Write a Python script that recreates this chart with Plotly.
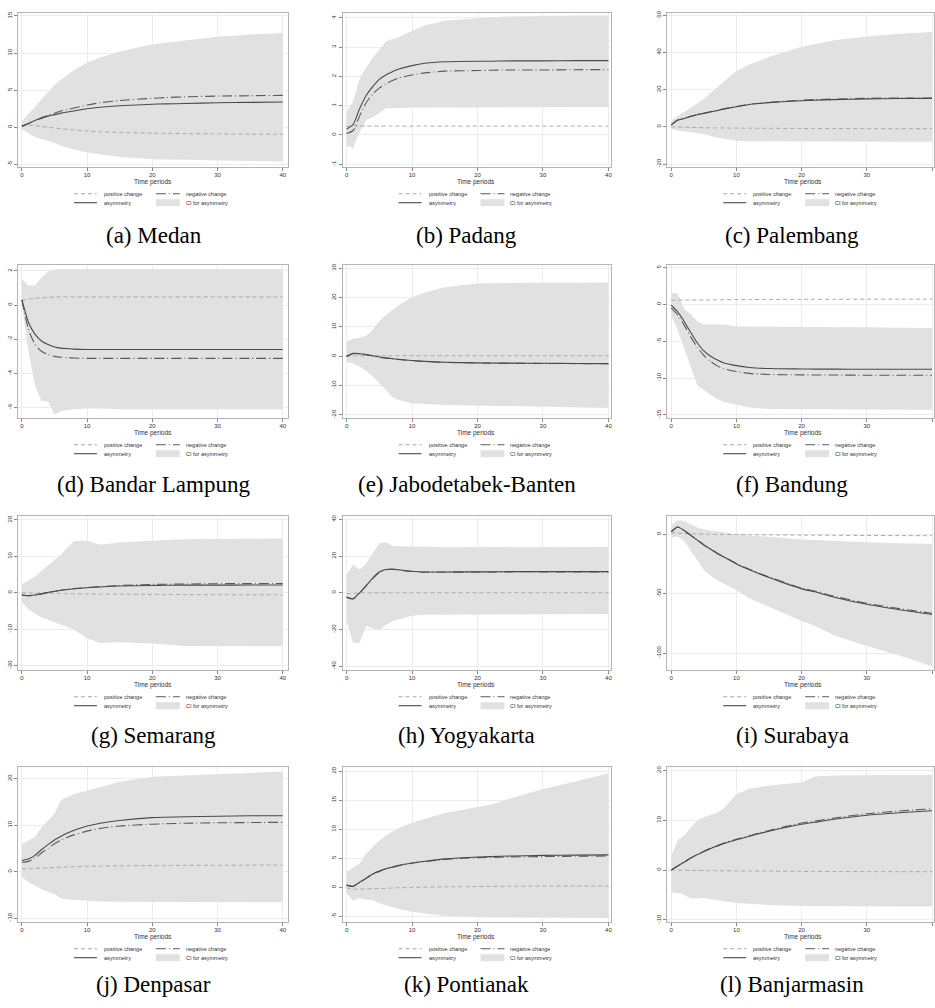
import plotly.graph_objects as go

# ---------------- data ----------------
horizon = [0, 1, 2, 3, 4, 5, 6, 7, 8, 10, 12, 15, 20, 22, 25, 30, 35, 40]

medan_pos = [0.1, 0.3, 0.2, 0.1, 0.0, -0.1, -0.2, -0.28, -0.35, -0.5, -0.6, -0.7, -0.8, -0.82, -0.85, -0.9, -0.92, -0.95]
medan_neg = [0.2, 0.5, 0.9, 1.3, 1.6, 1.9, 2.2, 2.4, 2.6, 3.0, 3.3, 3.6, 3.9, 4.0, 4.1, 4.2, 4.25, 4.3]
medan_asym = [0.1, 0.5, 0.9, 1.2, 1.5, 1.7, 1.9, 2.05, 2.2, 2.5, 2.7, 2.9, 3.1, 3.15, 3.2, 3.3, 3.35, 3.4]
medan_lo = [-0.3, -0.8, -1.3, -1.6, -1.8, -2.1, -2.5, -2.8, -3.0, -3.4, -3.7, -4.0, -4.3, -4.35, -4.4, -4.5, -4.55, -4.6]
medan_hi = [0.8, 1.8, 2.8, 3.7, 4.7, 5.7, 6.4, 7.1, 7.7, 8.7, 9.4, 10.2, 11.2, 11.4, 11.7, 12.2, 12.5, 12.7]

padang_pos = [0.28, 0.3, 0.3, 0.3, 0.3, 0.3, 0.3, 0.3, 0.3, 0.3, 0.3, 0.3, 0.3, 0.3, 0.3, 0.3, 0.3, 0.3]
padang_neg = [0.05, 0.15, 0.65, 1.1, 1.4, 1.6, 1.75, 1.86, 1.95, 2.05, 2.12, 2.18, 2.2, 2.21, 2.22, 2.22, 2.23, 2.23]
padang_asym = [0.2, 0.35, 0.9, 1.35, 1.65, 1.9, 2.05, 2.16, 2.25, 2.37, 2.45, 2.5, 2.52, 2.52, 2.53, 2.53, 2.54, 2.54]
padang_lo = [-0.37, -0.45, 0.1, 0.5, 0.6, 0.75, 0.9, 0.91, 0.92, 0.93, 0.94, 0.95, 0.95, 0.95, 0.95, 0.95, 0.95, 0.95]
padang_hi = [0.78, 1.13, 1.93, 2.3, 2.65, 2.9, 3.2, 3.27, 3.35, 3.55, 3.75, 3.9, 4.0, 4.02, 4.05, 4.07, 4.08, 4.08]

palembang_pos = [0, -0.1, -0.2, -0.3, -0.4, -0.5, -0.55, -0.6, -0.65, -0.7, -0.75, -0.8, -0.9, -0.9, -0.95, -1, -1, -1]
palembang_neg = [1, 3.6, 4.6, 5.6, 6.6, 7.3, 8.1, 8.8, 9.6, 10.9, 12.1, 13.1, 14.3, 14.6, 14.9, 15.3, 15.5, 15.5]
palembang_asym = [1, 3.5, 4.5, 5.5, 6.5, 7.2, 8, 8.7, 9.5, 10.8, 12, 13, 14, 14.3, 14.6, 15, 15.2, 15.3]
palembang_lo = [-1, -2, -2.5, -3, -3.5, -4, -5, -5.8, -6.5, -7.5, -7.8, -8, -8, -8, -8, -8, -8, -8]
palembang_hi = [3, 6, 8, 10.5, 12.5, 15, 18, 21, 24, 30, 33.5, 37.5, 43, 44.5, 46.5, 48.5, 50, 51]

lampung_pos = [0.27, 0.35, 0.4, 0.42, 0.45, 0.47, 0.48, 0.48, 0.48, 0.48, 0.48, 0.48, 0.48, 0.48, 0.48, 0.48, 0.48, 0.48]
lampung_neg = [0.3, -1.4, -2.3, -2.7, -2.9, -3.0, -3.05, -3.08, -3.1, -3.12, -3.12, -3.12, -3.12, -3.12, -3.12, -3.12, -3.12, -3.12]
lampung_asym = [0.3, -1.0, -1.7, -2.1, -2.3, -2.45, -2.52, -2.55, -2.58, -2.6, -2.6, -2.6, -2.6, -2.6, -2.6, -2.6, -2.6, -2.6]
lampung_lo = [0.1, -2.7, -4.7, -5.6, -5.65, -6.4, -6.2, -6.15, -6.1, -6.05, -6.05, -6.1, -6.1, -6.1, -6.1, -6.1, -6.1, -6.1]
lampung_hi = [1.51, 1.15, 1.15, 1.6, 1.95, 2.1, 2.12, 2.12, 2.12, 2.12, 2.12, 2.12, 2.12, 2.12, 2.12, 2.12, 2.12, 2.12]

jabo_pos = [0, 0.15, 0.2, 0.2, 0.2, 0.2, 0.2, 0.2, 0.2, 0.2, 0.2, 0.2, 0.2, 0.2, 0.2, 0.2, 0.2, 0.2]
jabo_neg = [-0.1, 0.9, 0.8, 0.5, 0.1, -0.3, -0.6, -0.85, -1.1, -1.5, -1.8, -2.1, -2.3, -2.35, -2.4, -2.45, -2.5, -2.55]
jabo_asym = [0, 1.0, 0.85, 0.55, 0.15, -0.25, -0.55, -0.8, -1.05, -1.45, -1.75, -2.05, -2.25, -2.3, -2.35, -2.4, -2.45, -2.5]
jabo_lo = [-2, -2.5, -3.5, -5, -6.8, -9, -11.5, -14, -15, -16, -16.3, -16.6, -16.9, -17, -17.1, -17.3, -17.4, -17.6]
jabo_hi = [5, 6, 6.3, 7, 9, 12, 14, 15.8, 17.5, 20, 21.8, 23.5, 24.8, 24.9, 25, 25, 25.05, 25.1]

bandung_pos = [0.55, 0.6, 0.6, 0.6, 0.6, 0.62, 0.63, 0.64, 0.65, 0.66, 0.67, 0.68, 0.7, 0.7, 0.7, 0.72, 0.72, 0.73]
bandung_neg = [-0.5, -1.4, -2.8, -4.4, -5.8, -6.9, -7.7, -8.3, -8.7, -9.1, -9.35, -9.5, -9.55, -9.57, -9.58, -9.6, -9.6, -9.6]
bandung_asym = [-0.1, -1.0, -2.3, -3.8, -5.2, -6.3, -7.0, -7.5, -7.9, -8.3, -8.55, -8.7, -8.75, -8.77, -8.78, -8.8, -8.8, -8.8]
bandung_lo = [-1.5, -3.5, -6, -8.5, -11, -11.7, -12.2, -12.8, -13.2, -13.6, -14, -14.2, -14.3, -14.3, -14.3, -14.3, -14.3, -14.3]
bandung_hi = [1.6, 1.5, -0.6, -1.3, -2.3, -2.7, -2.7, -2.7, -2.7, -3.0, -3.0, -3.0, -3.0, -3.05, -3.05, -3.1, -3.15, -3.2]

semarang_pos = [0, -0.03, -0.06, -0.1, -0.13, -0.16, -0.2, -0.23, -0.26, -0.3, -0.35, -0.4, -0.45, -0.47, -0.5, -0.52, -0.54, -0.55]
semarang_neg = [-0.6, -0.8, -0.6, -0.3, 0.1, 0.4, 0.7, 0.95, 1.15, 1.45, 1.7, 2.0, 2.3, 2.35, 2.4, 2.5, 2.52, 2.55]
semarang_asym = [-0.6, -0.8, -0.6, -0.3, 0.1, 0.4, 0.7, 0.9, 1.1, 1.4, 1.6, 1.85, 2.0, 2.05, 2.1, 2.1, 2.12, 2.15]
semarang_lo = [-2.5, -4.5, -5.7, -6.8, -7.5, -8, -8.7, -9.4, -10.2, -12.5, -13.8, -13.6, -13.9, -14.2, -14.6, -14.6, -14.65, -14.7]
semarang_hi = [2.4, 3.3, 4.5, 6, 7.5, 8.8, 10.5, 12.5, 14.2, 14.3, 13.2, 13.8, 14.4, 14.5, 14.7, 14.8, 14.85, 14.9]

yogya_pos = [-0.5, -0.3, -0.1, 0, 0, 0, 0, 0, 0, 0, 0, 0, 0, 0, 0, 0, 0, 0]
yogya_neg = [-2.5, -3.4, -0.2, 3.8, 7.8, 11.1, 12.5, 12.8, 12.4, 11.6, 11.2, 11.2, 11.3, 11.3, 11.4, 11.4, 11.4, 11.4]
yogya_asym = [-2.3, -3.2, 0, 4, 8, 11.3, 12.7, 12.9, 12.5, 11.7, 11.3, 11.3, 11.4, 11.4, 11.5, 11.5, 11.5, 11.5]
yogya_lo = [-15, -27.4, -27, -17.9, -19.5, -20.4, -17.5, -15.5, -14.5, -12.5, -12, -12.3, -12.2, -12.1, -12, -11.8, -11.7, -11.6]
yogya_hi = [10, 15.4, 12.5, 16, 21.5, 27, 27.5, 25.5, 25.3, 25, 25, 24.8, 24.8, 24.8, 24.8, 24.8, 24.85, 24.9]

surabaya_pos = [1, 0.8, 0.6, 0.4, 0.2, 0, -0.1, -0.2, -0.25, -0.3, -0.4, -0.6, -0.8, -0.85, -0.95, -1.1, -1.2, -1.3]
surabaya_neg = [2, 6, 3, -1, -5, -9, -12.5, -15.8, -18.8, -24.7, -29.6, -36, -45.3, -47.8, -52.2, -58.2, -62.6, -66.5]
surabaya_asym = [2, 6, 3, -1, -5, -9, -12.5, -16, -19, -25, -30, -36.5, -46, -48.5, -53, -59, -63.5, -67.5]
surabaya_lo = [-2.8, -2, -6, -14, -22, -30, -34.7, -38.5, -41.7, -47, -54, -61, -73, -77, -85, -94, -102, -111]
surabaya_hi = [7.8, 11.7, 11, 8, 5.6, 4, 3, 2.2, 1.5, 0, -1, -2, -4.5, -5, -5.8, -6.9, -7.6, -8.3]

denpasar_pos = [0.6, 0.65, 0.7, 0.75, 0.8, 0.9, 0.95, 1.0, 1.05, 1.15, 1.2, 1.25, 1.3, 1.3, 1.35, 1.35, 1.4, 1.4]
denpasar_neg = [2.0, 2.2, 2.9, 4.0, 5.0, 6.0, 6.8, 7.4, 7.9, 8.7, 9.3, 9.8, 10.2, 10.3, 10.4, 10.5, 10.55, 10.6]
denpasar_asym = [2.4, 2.7, 3.5, 4.7, 5.8, 6.8, 7.6, 8.3, 8.9, 9.8, 10.4, 11.0, 11.6, 11.7, 11.8, 11.9, 12.0, 12.0]
denpasar_lo = [-1.1, -2.3, -3, -3.8, -4.4, -4.8, -5.8, -6.0, -6.1, -6.3, -6.4, -6.5, -6.5, -6.55, -6.6, -6.6, -6.6, -6.6]
denpasar_hi = [5.9, 6.7, 7.5, 9.5, 11.1, 12.5, 15.4, 16, 16.7, 17.4, 18.2, 19.3, 20.4, 20.5, 20.7, 21, 21.2, 21.5]

pontianak_pos = [-0.1, -0.3, -0.3, -0.25, -0.2, -0.2, -0.15, -0.1, -0.05, 0, 0.05, 0.1, 0.15, 0.17, 0.2, 0.22, 0.24, 0.25]
pontianak_neg = [0.4, 0.15, 0.85, 1.55, 2.25, 2.75, 3.15, 3.45, 3.75, 4.15, 4.45, 4.8, 5.1, 5.15, 5.25, 5.3, 5.35, 5.4]
pontianak_asym = [0.4, 0.2, 0.9, 1.6, 2.3, 2.8, 3.2, 3.5, 3.8, 4.2, 4.5, 4.9, 5.2, 5.3, 5.4, 5.5, 5.55, 5.6]
pontianak_lo = [-1.0, -2.3, -1.8, -2.1, -2.2, -2.7, -3.1, -3.4, -3.7, -4.2, -4.5, -4.9, -5.1, -5.15, -5.2, -5.2, -5.25, -5.25]
pontianak_hi = [2.7, 3.4, 4.1, 5.8, 7.0, 8.0, 8.9, 9.6, 10.2, 11.1, 11.8, 12.8, 13.8, 14.2, 15.3, 16.9, 18.2, 19.6]

banjar_pos = [0, -0.02, -0.04, -0.06, -0.08, -0.1, -0.12, -0.14, -0.15, -0.18, -0.2, -0.23, -0.27, -0.28, -0.3, -0.32, -0.33, -0.34]
banjar_neg = [0, 0.8, 1.6, 2.4, 3.1, 3.75, 4.35, 4.9, 5.4, 6.2, 6.9, 7.95, 9.45, 9.85, 10.45, 11.3, 11.85, 12.3]
banjar_asym = [0, 0.8, 1.6, 2.4, 3.1, 3.7, 4.3, 4.8, 5.3, 6.1, 6.8, 7.8, 9.2, 9.6, 10.2, 11.0, 11.5, 11.9]
banjar_lo = [-4.5, -4.6, -5.0, -5.7, -5.7, -5.6, -5.8, -6.0, -6.2, -6.6, -6.8, -7.0, -7.2, -7.25, -7.3, -7.3, -7.3, -7.3]
banjar_hi = [2.8, 6.0, 7.0, 8.5, 10.0, 10.6, 11.1, 11.5, 12.3, 15.2, 16.3, 17.0, 17.6, 18.8, 19.0, 19.1, 19.1, 19.1]

captions = ["(a) Medan", "(b) Padang", "(c) Palembang", "(d) Bandar Lampung",
            "(e) Jabodetabek-Banten", "(f) Bandung", "(g) Semarang", "(h) Yogyakarta",
            "(i) Surabaya", "(j) Denpasar", "(k) Pontianak", "(l) Banjarmasin"]

y_ticks = [[-5, 0, 5, 10, 15], [-1, 0, 1, 2, 3, 4], [-20, 0, 20, 40, 60],
           [-6, -4, -2, 0, 2], [-20, -10, 0, 10, 20, 30], [-15, -10, -5, 0, 5],
           [-20, -10, 0, 10, 20], [-40, -20, 0, 20, 40], [-100, -50, 0],
           [-10, 0, 10, 20], [-5, 0, 5, 10, 15, 20], [-10, 0, 10, 20]]
x_ticks = [0, 10, 20, 30, 40]

legend_labels = ["positive change", "negative change", "asymmetry", "CI for asymmetry"]
x_title = "Time periods"

series = [
    (medan_pos, medan_neg, medan_asym, medan_lo, medan_hi),
    (padang_pos, padang_neg, padang_asym, padang_lo, padang_hi),
    (palembang_pos, palembang_neg, palembang_asym, palembang_lo, palembang_hi),
    (lampung_pos, lampung_neg, lampung_asym, lampung_lo, lampung_hi),
    (jabo_pos, jabo_neg, jabo_asym, jabo_lo, jabo_hi),
    (bandung_pos, bandung_neg, bandung_asym, bandung_lo, bandung_hi),
    (semarang_pos, semarang_neg, semarang_asym, semarang_lo, semarang_hi),
    (yogya_pos, yogya_neg, yogya_asym, yogya_lo, yogya_hi),
    (surabaya_pos, surabaya_neg, surabaya_asym, surabaya_lo, surabaya_hi),
    (denpasar_pos, denpasar_neg, denpasar_asym, denpasar_lo, denpasar_hi),
    (pontianak_pos, pontianak_neg, pontianak_asym, pontianak_lo, pontianak_hi),
    (banjar_pos, banjar_neg, banjar_asym, banjar_lo, banjar_hi),
]

# ---------------- layout geometry (pixels) ----------------
W, H = 935, 1008
y_ranges = [[-5.4, 15.4], [-1.11, 4.17], [-21.8, 61.2],
            [-6.63, 2.35], [-21.15, 31.1], [-15.46, 5.37],
            [-21.3, 21.1], [-42.2, 41.8], [-114.5, 15.3],
            [-10.9, 22.5], [-6.0, 20.7], [-10.5, 20.7]]
col_px = [(18, 288), (343, 612), (668, 935)]
x_ranges = [[-0.6, 40.75], [-0.6, 40.45], [-0.6, 40.3]]
row_px = [(10, 165), (263, 417), (515, 670), (767, 923)]
caption_cx = [154, 467, 793]
caption_cy = [233, 483, 735, 985]
title_cx = [153, 477, 804]

CI_FILL = "#e1e1e1"
POS_C = "#a9a9a9"
NEG_C = "#5a5a5a"
ASY_C = "#4a4a4a"
TXT_C = "#333333"

def px_x(x):
    return x / W

def px_y(y):
    return 1 - y / H

fig = go.Figure()
annotations = []
shapes = []

for i, (pos, neg, asym, lo, hi) in enumerate(series):
    r, c = divmod(i, 3)
    xa = "x" if i == 0 else f"x{i+1}"
    ya = "y" if i == 0 else f"y{i+1}"
    x0, x1 = col_px[c]
    yt, yb = row_px[r]

    fig.add_trace(go.Scatter(
        x=horizon + horizon[::-1], y=hi + lo[::-1], xaxis=xa, yaxis=ya,
        fill="toself", fillcolor=CI_FILL, line=dict(width=0), mode="lines",
        hoverinfo="skip", showlegend=False, name=legend_labels[3]))
    fig.add_trace(go.Scatter(
        x=horizon, y=pos, xaxis=xa, yaxis=ya, mode="lines",
        line=dict(color=POS_C, width=1, dash="4px,3px", shape="spline", smoothing=0.6),
        showlegend=False, name=legend_labels[0]))
    fig.add_trace(go.Scatter(
        x=horizon, y=neg, xaxis=xa, yaxis=ya, mode="lines",
        line=dict(color=NEG_C, width=1.1, dash="10px,3px,1px,3px", shape="spline", smoothing=0.6),
        showlegend=False, name=legend_labels[1]))
    fig.add_trace(go.Scatter(
        x=horizon, y=asym, xaxis=xa, yaxis=ya, mode="lines",
        line=dict(color=ASY_C, width=1.1, shape="spline", smoothing=0.6),
        showlegend=False, name=legend_labels[2]))

    axis_common = dict(showline=True, linecolor="#b4b4b4", linewidth=1, mirror=True,
                       ticks="outside", ticklen=3, tickcolor="#888888", tickwidth=1,
                       showgrid=True, gridcolor="#ececec", gridwidth=1, zeroline=False,
                       tickfont=dict(family="Liberation Sans, Arial", size=6, color=TXT_C))
    fig.layout[("xaxis" if i == 0 else f"xaxis{i+1}")] = dict(
        domain=[px_x(x0), px_x(x1)], range=x_ranges[c], anchor=ya,
        tickvals=x_ticks, ticktext=[str(t) for t in x_ticks], ticklabelstandoff=-2,
        **axis_common)
    fig.layout[("yaxis" if i == 0 else f"yaxis{i+1}")] = dict(
        domain=[px_y(yb), px_y(yt)], range=y_ranges[i], anchor=xa,
        tickvals=y_ticks[i], ticktext=[str(t) for t in y_ticks[i]], tickangle=-90,
        **axis_common)

    annotations.append(dict(text=x_title, x=px_x(title_cx[c]), y=px_y(yb + 14.5), xref="paper", yref="paper",
                            showarrow=False, xanchor="center", yanchor="middle",
                            font=dict(family="Liberation Sans, Arial", size=6.5, color=TXT_C)))
    # legend (2 x 2)
    r1, r2 = yb + 26.5, yb + 35.5
    k1a, k1b, t1 = x0 + 56, x0 + 79, x0 + 84
    k2a, k2b, t2 = x0 + 138, x0 + 162, x0 + 166
    shapes.append(dict(type="line", xref="paper", yref="paper", x0=px_x(k1a), x1=px_x(k1b),
                       y0=px_y(r1), y1=px_y(r1), line=dict(color=POS_C, width=1, dash="4px,3px")))
    shapes.append(dict(type="line", xref="paper", yref="paper", x0=px_x(k2a), x1=px_x(k2b),
                       y0=px_y(r1), y1=px_y(r1), line=dict(color=NEG_C, width=1, dash="10px,3px,1px,3px")))
    shapes.append(dict(type="line", xref="paper", yref="paper", x0=px_x(k1a), x1=px_x(k1b),
                       y0=px_y(r2), y1=px_y(r2), line=dict(color=ASY_C, width=1.1)))
    shapes.append(dict(type="rect", xref="paper", yref="paper", x0=px_x(k2a), x1=px_x(k2b),
                       y0=px_y(r2 + 3.5), y1=px_y(r2 - 3.5), fillcolor=CI_FILL, line=dict(width=0)))
    for txt, tx, ty in [(legend_labels[0], t1, r1), (legend_labels[1], t2, r1),
                        (legend_labels[2], t1, r2), (legend_labels[3], t2, r2)]:
        annotations.append(dict(text=txt, x=px_x(tx), y=px_y(ty), xref="paper", yref="paper",
                                showarrow=False, xanchor="left", yanchor="middle",
                                font=dict(family="Liberation Sans, Arial", size=5.5, color=TXT_C)))
    annotations.append(dict(text=captions[i], x=px_x(caption_cx[c]), y=px_y(caption_cy[r]),
                            xref="paper", yref="paper", showarrow=False,
                            xanchor="center", yanchor="middle",
                            font=dict(family="Liberation Serif, Times New Roman", size=23, color="#000000")))

fig.update_layout(width=W, height=H, margin=dict(l=0, r=0, t=0, b=0),
                  paper_bgcolor="white", plot_bgcolor="white",
                  annotations=annotations, shapes=shapes, showlegend=False)

fig.write_html("out.html", config={"displayModeBar": False},
               post_script="document.body.style.margin='0';document.body.style.overflow='hidden';")
